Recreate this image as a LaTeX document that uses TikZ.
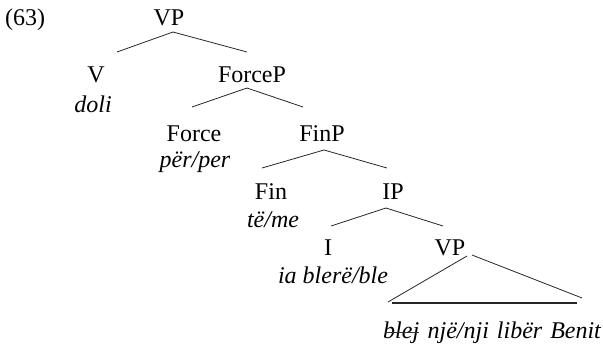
\documentclass[tikz,border=0pt]{standalone}
\usepackage{fontspec}
\setmainfont{Liberation Serif}
\usetikzlibrary{calc}
\begin{document}
\begin{tikzpicture}[x=1pt,y=-1pt,
  lbl/.style={anchor=base,inner sep=0pt,font=\fontsize{24}{28}\selectfont},
  it/.style={anchor=base,inner sep=0pt,font=\fontsize{24}{28}\selectfont\itshape},
  br/.style={line width=0.8pt,draw=black!85},
  strike/.style={line width=1pt,draw=black!80},
  basebar/.style={line width=1.4pt,draw=black!85}]
\useasboundingbox (0,0) rectangle (603,346);
\node[lbl,anchor=base west] (ex) at (5,25) {(63)};
\node[lbl] (vp) at (169,25) {VP};
\node[lbl] (v) at (96,82) {V};
\node[it] (doli) at (93,112) {doli};
\node[lbl] (forcep) at (252,82) {ForceP};
\node[lbl] (force) at (194,141) {Force};
\node[it] (per) at (195,167) {për/per};
\node[lbl] (finp) at (322,141) {FinP};
\node[lbl] (fin) at (271,199) {Fin};
\node[it] (teme) at (273,227) {të/me};
\node[lbl] (ip) at (393,199) {IP};
\node[lbl] (i) at (328,255) {I};
\node[it] (ble) at (333,283) {ia blerë/ble};
\node[lbl] (vpb) at (450,255) {VP};
\node[it,anchor=base west] (blej) at (383,338) {blej};
\node[it,anchor=base west] (obj) at ($(blej.base east)+(8,0)$) {një/nji\hspace{8pt}libër\hspace{8pt}Benit};
\draw[strike] ($(blej.base west)+(2,-6)$) -- ($(blej.base east)+(0,-6)$);
% branches
\draw[br] ($(vp.base)+(4,7)$) -- ($(v.base)+(21,-30)$);
\draw[br] ($(vp.base)+(4,7)$) -- ($(forcep.base)+(-5,-30)$);
\draw[br] ($(forcep.base)+(-5,6)$) -- ($(force.base)+(-2,-34)$);
\draw[br] ($(forcep.base)+(-5,6)$) -- ($(finp.base)+(-19,-34)$);
\draw[br] ($(finp.base)+(2,9)$) -- ($(fin.base)+(-9,-31)$);
\draw[br] ($(finp.base)+(2,9)$) -- ($(ip.base)+(-6,-31)$);
\draw[br] ($(ip.base)+(-7,9)$) -- ($(i.base)+(3,-29)$);
\draw[br] ($(ip.base)+(-7,9)$) -- ($(vpb.base)+(-7,-29)$);
% triangle
\draw[br] ($(vpb.base)+(17,1)$) -- ($(blej.base west)+(5,-36)$);
\draw[br] ($(vpb.base)+(22,0)$) -- ($(obj.base east)+(-19,-40)$);
\draw[basebar] ($(blej.base west)+(9,-35)$) -- ($(obj.base east)+(-24,-35)$);
\end{tikzpicture}
\end{document}
